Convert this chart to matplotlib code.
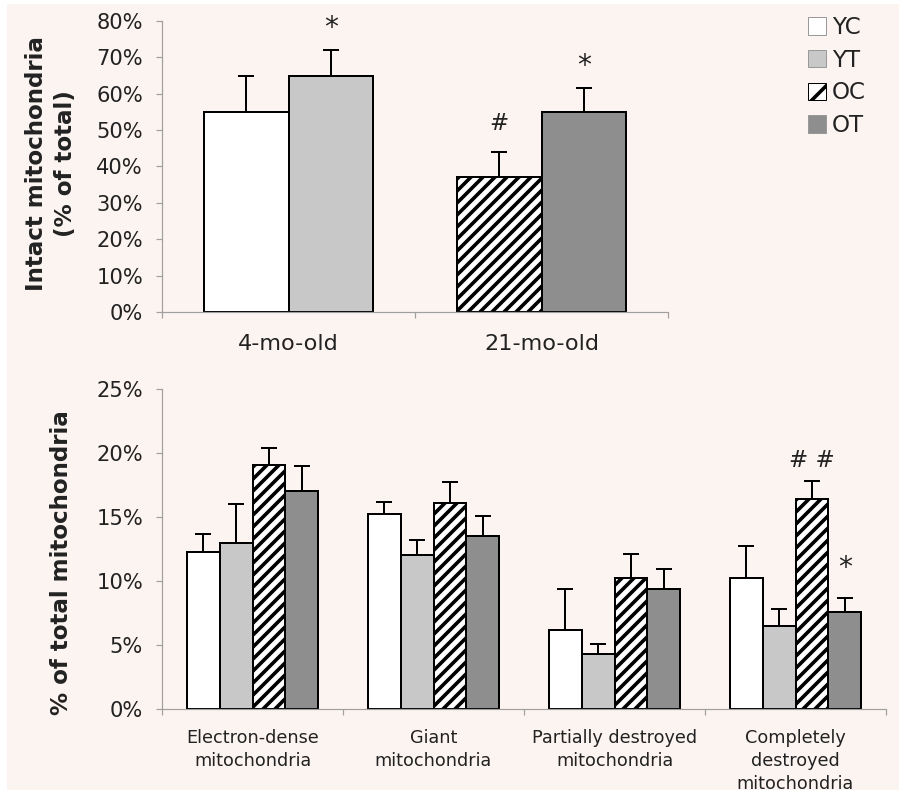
import numpy as np
import matplotlib
matplotlib.use("Agg")
import matplotlib.pyplot as plt
from matplotlib.patches import Patch, Rectangle
from matplotlib.ticker import PercentFormatter

# data (percent)
series = ['YC', 'YT', 'OC', 'OT']

top_groups = ['4-mo-old', '21-mo-old']
top_group_idx = [0, 0, 1, 1]
top_vals = [55, 65, 37, 55]
top_errs = [10, 7, 7, 6.5]
top_marks = ['', '*', '#', '*']

cats = ['Electron-dense\nmitochondria', 'Giant\nmitochondria',
        'Partially destroyed\nmitochondria', 'Completely\ndestroyed\nmitochondria']
yc = [12.3, 15.2, 6.2, 10.2]
yt = [13.0, 12.0, 4.3, 6.5]
oc = [19.1, 16.1, 10.2, 16.4]
ot = [17.0, 13.5, 9.4, 7.6]
yc_err = [1.4, 1.0, 3.2, 2.5]
yt_err = [3.0, 1.2, 0.8, 1.3]
oc_err = [1.3, 1.6, 1.9, 1.4]
ot_err = [2.0, 1.6, 1.5, 1.1]
# significance marks in bottom panel: (category, series, text)
bottom_marks = [(3, 'OC', '# #'), (3, 'OT', '*')]

styles = {
    'YC': dict(facecolor='white', hatch=None),
    'YT': dict(facecolor='#c8c8c8', hatch=None),
    'OC': dict(facecolor='white', hatch='////'),
    'OT': dict(facecolor='#8e8e8e', hatch=None),
}

DPI = 144
plt.rcParams['font.family'] = 'DejaVu Sans'
plt.rcParams['hatch.linewidth'] = 1.8
spine_col = '#a0a0a0'
txt_col = '#222222'

fig = plt.figure(figsize=(899 / DPI, 796 / DPI), dpi=DPI, facecolor='white')
fig.patches.append(Rectangle((7 / 899, 1 - 790 / 796), 892 / 899, 786 / 796,
                             transform=fig.transFigure, facecolor='#fcf4f1',
                             edgecolor='none', zorder=-10))


def style_axes(ax, ncat):
    for s in ['top', 'right']:
        ax.spines[s].set_visible(False)
    for s in ['left', 'bottom']:
        ax.spines[s].set_color(spine_col)
        ax.spines[s].set_linewidth(0.6)
    ax.set_facecolor('none')
    ax.set_xlim(-0.5, ncat - 0.5)
    ax.set_xticks(list(np.arange(ncat) - 0.5) + [ncat - 0.5], minor=True)
    ax.tick_params(axis='x', which='major', length=0)
    ax.tick_params(axis='x', which='minor', length=3, color=spine_col, width=0.6)
    ax.tick_params(axis='y', length=3, color=spine_col, width=0.6, pad=6.5,
                   labelsize=10.5, labelcolor=txt_col)
    ax.yaxis.set_major_formatter(PercentFormatter(xmax=100, decimals=0))


def draw_bar(ax, x, v, e, name, w):
    st = styles[name]
    ax.bar(x, v, width=w, facecolor=st['facecolor'], hatch=st['hatch'],
           edgecolor='black', linewidth=1.0, zorder=2)
    ax.errorbar(x, v, yerr=[[0], [e]], fmt='none', ecolor='black',
                elinewidth=1.0, capsize=4.2, capthick=1.0, zorder=3)


def mark(ax, txt, x, y, dy):
    fs = 14 if txt == '*' else 11.5
    ax.annotate(txt, (x, y), xytext=(0, dy), textcoords='offset points',
                ha='center', va='center', fontsize=fs, color=txt_col)


# ---- top panel
ax1 = fig.add_axes([162 / 899, 1 - 312 / 796, (668 - 162) / 899, (312 - 21) / 796])
style_axes(ax1, 2)
w1 = 1 / 3
for i, name in enumerate(series):
    g = top_group_idx[i]
    x = g + (-0.5 if i % 2 == 0 else 0.5) * w1
    draw_bar(ax1, x, top_vals[i], top_errs[i], name, w1)
    if top_marks[i]:
        mark(ax1, top_marks[i], x, top_vals[i] + top_errs[i],
             11 if top_marks[i] == '*' else 14)
ax1.set_ylim(0, 80)
ax1.set_yticks(np.arange(0, 81, 10))
ax1.set_xticks(range(2))
ax1.set_xticklabels(top_groups, fontsize=11.2, color=txt_col)
ax1.tick_params(axis='x', which='major', pad=11)

fig.text(51 / 899, 1 - 164 / 796, 'Intact mitochondria\n(% of total)', rotation=90,
         ha='center', va='center', multialignment='center', fontsize=11.5,
         fontweight='bold', linespacing=1.35, color=txt_col)

# legend
handles = [Patch(facecolor=styles[n]['facecolor'],
                 hatch='//' if styles[n]['hatch'] else None,
                 edgecolor='#999999' if n != 'OC' else 'black', linewidth=0.5)
           for n in series]
leg = fig.legend(handles, series, loc='upper left',
                 bbox_to_anchor=(808 / 899, 1 - 16 / 796), frameon=False,
                 fontsize=11.5, handlelength=0.8, handleheight=0.8,
                 handletextpad=0.25, labelspacing=0.42, borderpad=0,
                 borderaxespad=0)
for t in leg.get_texts():
    t.set_color(txt_col)

# ---- bottom panel
ax2 = fig.add_axes([162 / 899, 1 - 709 / 796, (886 - 162) / 899, (709 - 389) / 796])
style_axes(ax2, 4)
w2 = 0.182
vals = {'YC': yc, 'YT': yt, 'OC': oc, 'OT': ot}
errs = {'YC': yc_err, 'YT': yt_err, 'OC': oc_err, 'OT': ot_err}
offs = {'YC': -1.5, 'YT': -0.5, 'OC': 0.5, 'OT': 1.5}
for name in series:
    for c in range(len(cats)):
        draw_bar(ax2, c + offs[name] * w2, vals[name][c], errs[name][c], name, w2)
for c, name, txt in bottom_marks:
    x = c + offs[name] * w2
    y = vals[name][c] + errs[name][c]
    mark(ax2, txt, x, y, 15 if txt == '*' else 10.5)
ax2.set_ylim(0, 25)
ax2.set_yticks(np.arange(0, 26, 5))
ax2.set_xticks(range(4))
ax2.set_xticklabels(cats, fontsize=8.8, linespacing=1.36, color=txt_col)
ax2.tick_params(axis='x', which='major', pad=10)

fig.text(62 / 899, 1 - 563 / 796, '% of total mitochondria', rotation=90,
         ha='center', va='center', fontsize=11.5, fontweight='bold',
         color=txt_col)

fig.savefig('out.png', dpi=DPI)
